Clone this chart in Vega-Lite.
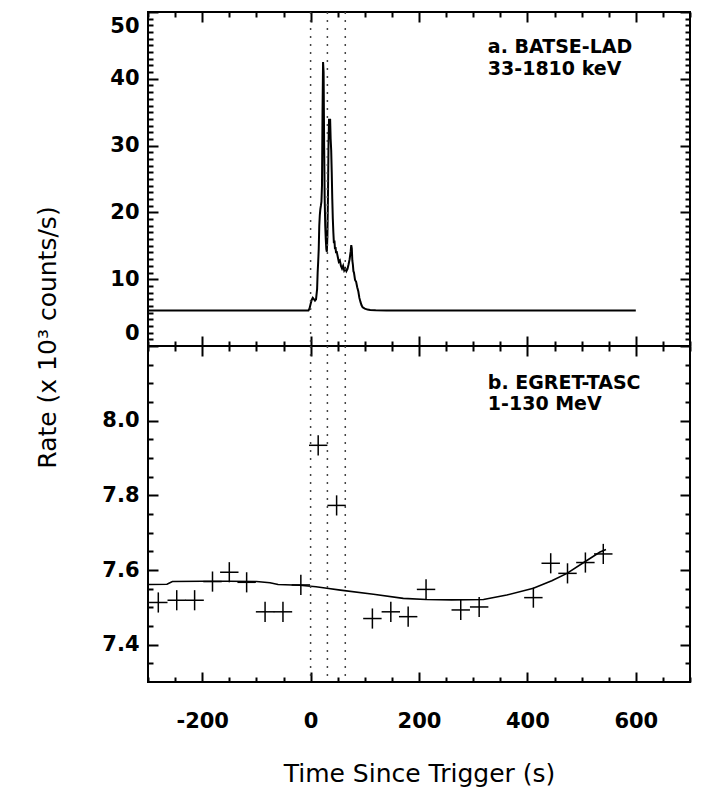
{
  "$schema": "https://vega.github.io/schema/vega-lite/v6.json",
  "padding": {"left": 34, "top": 10, "right": 27, "bottom": 5},
  "background": "white",
  "spacing": 0,
  "bounds": "flush",
  "config": {
    "view": {"stroke": "black", "strokeWidth": 2},
    "axis": {
      "grid": false, "domain": false,
      "tickColor": "black", "tickWidth": 2,
      "labelFont": "DejaVu Sans", "labelFontWeight": "bold", "labelFontSize": 21, "labelColor": "black",
      "titleFont": "DejaVu Sans", "titleFontWeight": "normal", "titleFontSize": 25, "titleColor": "black"
    }
  },
  "datasets": {
    "lad": [
      {"t": -300, "rate": 5.3}, {"t": -100, "rate": 5.3}, {"t": -20, "rate": 5.3}, {"t": -4, "rate": 5.3},
      {"t": -2, "rate": 5.6}, {"t": 0, "rate": 6.3}, {"t": 2, "rate": 6.9}, {"t": 4, "rate": 7.2},
      {"t": 6, "rate": 7.0}, {"t": 8, "rate": 6.8}, {"t": 10, "rate": 7.0}, {"t": 12, "rate": 8.5},
      {"t": 13, "rate": 11.0}, {"t": 14, "rate": 12.6}, {"t": 15, "rate": 14.5}, {"t": 16, "rate": 18.0},
      {"t": 17, "rate": 19.6}, {"t": 18, "rate": 20.5}, {"t": 19, "rate": 21.0}, {"t": 20, "rate": 21.6},
      {"t": 21, "rate": 24.0}, {"t": 22, "rate": 35.0}, {"t": 23, "rate": 42.5}, {"t": 24, "rate": 41.0},
      {"t": 25, "rate": 30.0}, {"t": 26, "rate": 22.0}, {"t": 27, "rate": 18.0}, {"t": 28, "rate": 16.0},
      {"t": 29, "rate": 14.5}, {"t": 30, "rate": 14.1}, {"t": 31, "rate": 16.5}, {"t": 32, "rate": 22.0},
      {"t": 33, "rate": 30.0}, {"t": 34, "rate": 34.0}, {"t": 35, "rate": 33.0}, {"t": 36, "rate": 34.0},
      {"t": 37, "rate": 31.0}, {"t": 38, "rate": 29.3}, {"t": 39, "rate": 26.0}, {"t": 40, "rate": 22.0},
      {"t": 41, "rate": 19.0}, {"t": 42, "rate": 17.0}, {"t": 43, "rate": 15.4}, {"t": 44, "rate": 15.8},
      {"t": 45, "rate": 14.5}, {"t": 46, "rate": 14.8}, {"t": 47, "rate": 13.9}, {"t": 48, "rate": 14.2},
      {"t": 50, "rate": 13.4}, {"t": 52, "rate": 12.6}, {"t": 54, "rate": 12.8}, {"t": 56, "rate": 12.0},
      {"t": 58, "rate": 11.6}, {"t": 60, "rate": 12.0}, {"t": 62, "rate": 11.3}, {"t": 64, "rate": 11.6},
      {"t": 66, "rate": 11.2}, {"t": 68, "rate": 11.5}, {"t": 70, "rate": 12.2}, {"t": 72, "rate": 13.0},
      {"t": 74, "rate": 14.2}, {"t": 75, "rate": 15.1}, {"t": 76, "rate": 14.6}, {"t": 77, "rate": 12.8},
      {"t": 78, "rate": 12.2}, {"t": 79, "rate": 11.2}, {"t": 80, "rate": 11.0}, {"t": 82, "rate": 9.9},
      {"t": 84, "rate": 9.6}, {"t": 86, "rate": 8.8}, {"t": 88, "rate": 8.2}, {"t": 90, "rate": 7.2},
      {"t": 92, "rate": 6.6}, {"t": 94, "rate": 6.1}, {"t": 96, "rate": 5.8}, {"t": 100, "rate": 5.6},
      {"t": 105, "rate": 5.45}, {"t": 110, "rate": 5.4}, {"t": 120, "rate": 5.35}, {"t": 140, "rate": 5.3},
      {"t": 200, "rate": 5.3}, {"t": 400, "rate": 5.3}, {"t": 600, "rate": 5.3}
    ],
    "tasc": [
      {"t": -281, "rate": 7.513, "dt": 17, "dr": 0.027}, {"t": -247, "rate": 7.519, "dt": 17, "dr": 0.027},
      {"t": -214, "rate": 7.519, "dt": 17, "dr": 0.027}, {"t": -181, "rate": 7.569, "dt": 17, "dr": 0.027},
      {"t": -150, "rate": 7.594, "dt": 17, "dr": 0.027}, {"t": -118, "rate": 7.567, "dt": 17, "dr": 0.027},
      {"t": -84, "rate": 7.488, "dt": 17, "dr": 0.027}, {"t": -51, "rate": 7.488, "dt": 17, "dr": 0.027},
      {"t": -18, "rate": 7.56, "dt": 17, "dr": 0.027}, {"t": 14, "rate": 7.934, "dt": 17, "dr": 0.027},
      {"t": 48, "rate": 7.773, "dt": 17, "dr": 0.027}, {"t": 114, "rate": 7.47, "dt": 17, "dr": 0.027},
      {"t": 148, "rate": 7.488, "dt": 17, "dr": 0.027}, {"t": 180, "rate": 7.475, "dt": 17, "dr": 0.027},
      {"t": 213, "rate": 7.548, "dt": 17, "dr": 0.027}, {"t": 277, "rate": 7.493, "dt": 17, "dr": 0.027},
      {"t": 311, "rate": 7.501, "dt": 17, "dr": 0.027}, {"t": 411, "rate": 7.526, "dt": 17, "dr": 0.027},
      {"t": 443, "rate": 7.618, "dt": 17, "dr": 0.027}, {"t": 474, "rate": 7.591, "dt": 17, "dr": 0.027},
      {"t": 507, "rate": 7.62, "dt": 17, "dr": 0.027}, {"t": 540, "rate": 7.643, "dt": 17, "dr": 0.027}
    ],
    "fit": [
      {"t": -300, "rate": 7.561}, {"t": -265, "rate": 7.562}, {"t": -255, "rate": 7.569}, {"t": -200, "rate": 7.570},
      {"t": -150, "rate": 7.570}, {"t": -100, "rate": 7.569}, {"t": -75, "rate": 7.566}, {"t": -60, "rate": 7.561},
      {"t": -20, "rate": 7.559}, {"t": 10, "rate": 7.555}, {"t": 30, "rate": 7.551}, {"t": 55, "rate": 7.546},
      {"t": 116, "rate": 7.535}, {"t": 171, "rate": 7.524}, {"t": 213, "rate": 7.521}, {"t": 260, "rate": 7.520},
      {"t": 319, "rate": 7.521}, {"t": 362, "rate": 7.533}, {"t": 411, "rate": 7.551}, {"t": 445, "rate": 7.571},
      {"t": 473, "rate": 7.591}, {"t": 506, "rate": 7.622}, {"t": 534, "rate": 7.648}, {"t": 545, "rate": 7.655}
    ],
    "intervals": [{"t": 0}, {"t": 31}, {"t": 64}],
    "labelsA": [
      {"t": 327, "rate": 44.8, "label": "a. BATSE-LAD"},
      {"t": 327, "rate": 41.4, "label": "33-1810 keV"}
    ],
    "labelsB": [
      {"t": 327, "rate": 8.101, "label": "b. EGRET-TASC"},
      {"t": 327, "rate": 8.044, "label": "1-130 MeV"}
    ]
  },
  "vconcat": [
    {
      "width": 542, "height": 334,
      "resolve": {"axis": {"x": "independent", "y": "independent"}},
      "layer": [
        {
          "data": {"name": "lad"},
          "mark": {"type": "line", "color": "black", "strokeWidth": 2},
          "encoding": {
            "x": {"field": "t", "type": "quantitative",
              "scale": {"domain": [-300, 700], "nice": false, "zero": false},
              "axis": {"orient": "bottom", "values": [-200, 0, 200, 400, 600], "tickSize": -10, "labels": false, "title": null}},
            "y": {"field": "rate", "type": "quantitative",
              "scale": {"domain": [0, 50], "nice": false},
              "axis": {"orient": "left", "values": [0, 10, 20, 30, 40, 50], "tickSize": -10, "labelPadding": 19,
                "labelFlush": true, "labelFlushOffset": -3,
                "title": "Rate (x 10³ counts/s)", "titleX": -101, "titleY": 325, "titleAngle": 270,
                "titleAlign": "center", "titleBaseline": "middle"}}
          }
        },
        {
          "data": {"name": "lad"},
          "mark": {"type": "line", "opacity": 0},
          "encoding": {
            "x": {"field": "t", "type": "quantitative",
              "axis": {"orient": "bottom", "values": [-300, -250, -150, -100, -50, 50, 100, 150, 250, 300, 350, 450, 500, 550, 650, 700], "tickSize": -5, "labels": false, "title": null}},
            "y": {"field": "rate", "type": "quantitative",
              "axis": {"orient": "left", "values": [1,2,3,4,5,6,7,8,9,11,12,13,14,15,16,17,18,19,21,22,23,24,25,26,27,28,29,31,32,33,34,35,36,37,38,39,41,42,43,44,45,46,47,48,49], "tickSize": -5, "labels": false, "title": null}}
          }
        },
        {
          "data": {"name": "lad"},
          "mark": {"type": "line", "opacity": 0},
          "encoding": {
            "x": {"field": "t", "type": "quantitative",
              "axis": {"orient": "top", "values": [-200, 0, 200, 400, 600], "tickSize": -10, "labels": false, "title": null}},
            "y": {"field": "rate", "type": "quantitative",
              "axis": {"orient": "right", "values": [0, 10, 20, 30, 40, 50], "tickSize": -10, "labels": false, "title": null}}
          }
        },
        {
          "data": {"name": "lad"},
          "mark": {"type": "line", "opacity": 0},
          "encoding": {
            "x": {"field": "t", "type": "quantitative",
              "axis": {"orient": "top", "values": [-300, -250, -150, -100, -50, 50, 100, 150, 250, 300, 350, 450, 500, 550, 650, 700], "tickSize": -5, "labels": false, "title": null}},
            "y": {"field": "rate", "type": "quantitative",
              "axis": {"orient": "right", "values": [1,2,3,4,5,6,7,8,9,11,12,13,14,15,16,17,18,19,21,22,23,24,25,26,27,28,29,31,32,33,34,35,36,37,38,39,41,42,43,44,45,46,47,48,49], "tickSize": -5, "labels": false, "title": null}}
          }
        },
        {
          "data": {"name": "intervals"},
          "mark": {"type": "rule", "color": "#444", "strokeWidth": 1.5, "strokeDash": [2, 6]},
          "encoding": {"x": {"field": "t", "type": "quantitative", "axis": null}}
        },
        {
          "data": {"name": "labelsA"},
          "mark": {"type": "text", "align": "left", "baseline": "middle", "font": "DejaVu Sans", "fontWeight": "bold", "fontSize": 19, "color": "black"},
          "encoding": {
            "x": {"field": "t", "type": "quantitative", "axis": null},
            "y": {"field": "rate", "type": "quantitative", "axis": null},
            "text": {"field": "label"}
          }
        }
      ]
    },
    {
      "width": 542, "height": 336,
      "resolve": {"axis": {"x": "independent", "y": "independent"}},
      "layer": [
        {
          "data": {"name": "fit"},
          "mark": {"type": "line", "color": "black", "strokeWidth": 1.6},
          "encoding": {
            "x": {"field": "t", "type": "quantitative",
              "scale": {"domain": [-300, 700], "nice": false, "zero": false},
              "axis": {"orient": "bottom", "values": [-200, 0, 200, 400, 600], "tickSize": -10, "labelPadding": 38,
                "labelExpr": "datum.value < 0 ? '-' + format(-datum.value, 'd') : format(datum.value, 'd')",
                "title": "Time Since Trigger (s)", "titleY": 91, "titleBaseline": "middle"}},
            "y": {"field": "rate", "type": "quantitative",
              "scale": {"domain": [7.3, 8.2], "nice": false, "zero": false},
              "axis": {"orient": "left", "values": [7.4, 7.6, 7.8, 8.0], "format": ".1f", "tickSize": -10, "labelPadding": 19, "title": null}}
          }
        },
        {
          "data": {"name": "fit"},
          "mark": {"type": "line", "opacity": 0},
          "encoding": {
            "x": {"field": "t", "type": "quantitative",
              "axis": {"orient": "bottom", "values": [-300, -250, -150, -100, -50, 50, 100, 150, 250, 300, 350, 450, 500, 550, 650, 700], "tickSize": -5, "labels": false, "title": null}},
            "y": {"field": "rate", "type": "quantitative",
              "axis": {"orient": "left", "values": [7.35, 7.45, 7.5, 7.55, 7.65, 7.7, 7.75, 7.85, 7.9, 7.95, 8.05, 8.1, 8.15], "tickSize": -5, "labels": false, "title": null}}
          }
        },
        {
          "data": {"name": "fit"},
          "mark": {"type": "line", "opacity": 0},
          "encoding": {
            "x": {"field": "t", "type": "quantitative",
              "axis": {"orient": "top", "values": [-200, 0, 200, 400, 600], "tickSize": -10, "labels": false, "title": null}},
            "y": {"field": "rate", "type": "quantitative",
              "axis": {"orient": "right", "values": [7.4, 7.6, 7.8, 8.0], "tickSize": -10, "labels": false, "title": null}}
          }
        },
        {
          "data": {"name": "fit"},
          "mark": {"type": "line", "opacity": 0},
          "encoding": {
            "x": {"field": "t", "type": "quantitative",
              "axis": {"orient": "top", "values": [-300, -250, -150, -100, -50, 50, 100, 150, 250, 300, 350, 450, 500, 550, 650, 700], "tickSize": -5, "labels": false, "title": null}},
            "y": {"field": "rate", "type": "quantitative",
              "axis": {"orient": "right", "values": [7.35, 7.45, 7.5, 7.55, 7.65, 7.7, 7.75, 7.85, 7.9, 7.95, 8.05, 8.1, 8.15], "tickSize": -5, "labels": false, "title": null}}
          }
        },
        {
          "data": {"name": "intervals"},
          "mark": {"type": "rule", "color": "#444", "strokeWidth": 1.5, "strokeDash": [2, 6]},
          "encoding": {"x": {"field": "t", "type": "quantitative", "axis": null}}
        },
        {
          "data": {"name": "tasc"},
          "mark": {"type": "errorbar", "ticks": false, "color": "black", "thickness": 1.5, "clip": true},
          "encoding": {
            "x": {"field": "t", "type": "quantitative", "axis": null},
            "xError": {"field": "dt"},
            "y": {"field": "rate", "type": "quantitative", "axis": null}
          }
        },
        {
          "data": {"name": "tasc"},
          "mark": {"type": "errorbar", "ticks": false, "color": "black", "thickness": 1.5, "clip": true},
          "encoding": {
            "y": {"field": "rate", "type": "quantitative", "axis": null},
            "yError": {"field": "dr"},
            "x": {"field": "t", "type": "quantitative", "axis": null}
          }
        },
        {
          "data": {"name": "labelsB"},
          "mark": {"type": "text", "align": "left", "baseline": "middle", "font": "DejaVu Sans", "fontWeight": "bold", "fontSize": 19, "color": "black"},
          "encoding": {
            "x": {"field": "t", "type": "quantitative", "axis": null},
            "y": {"field": "rate", "type": "quantitative", "axis": null},
            "text": {"field": "label"}
          }
        }
      ]
    }
  ]
}
